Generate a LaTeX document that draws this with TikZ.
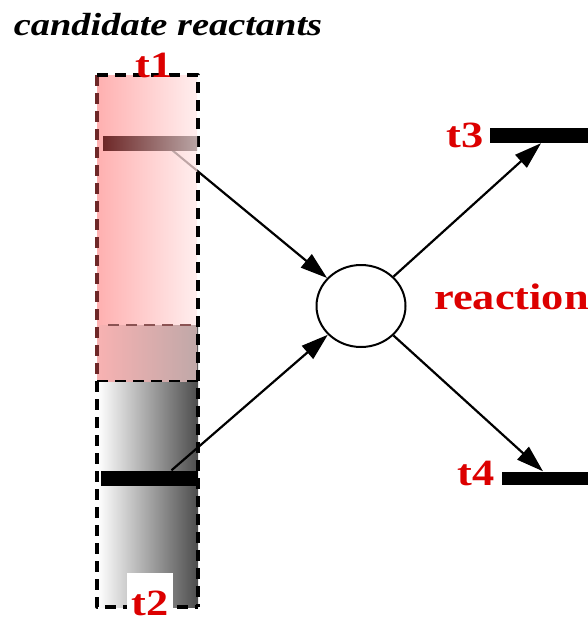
\documentclass[tikz,border=0pt]{standalone}
\usepackage{fontspec}
\setmainfont{Liberation Serif}
\usepackage{graphicx}
\usepackage{tikz}
\usetikzlibrary{arrows.meta,shapes.geometric}
\definecolor{labred}{RGB}{220,0,0}
\definecolor{rosel}{RGB}{255,176,176}
\definecolor{roser}{RGB}{255,238,238}
\definecolor{mixl}{RGB}{248,178,178}
\definecolor{mixr}{RGB}{192,168,168}
\definecolor{barl}{RGB}{110,40,40}
\definecolor{barr}{RGB}{185,165,165}
\definecolor{faint}{RGB}{190,165,165}
\tikzset{lab/.style={text=labred,font=\fontsize{37}{40}\selectfont\bfseries,inner sep=0pt},
  tbar/.style={fill=black,inner sep=0pt,minimum height=14pt},
  dashbox/.style={line width=3.2pt,dash pattern=on 11pt off 7pt},
  arc/.style={->,line width=2.2pt}}

\begin{document}
\begin{tikzpicture}[x=1pt,y=-1pt,>={Triangle[length=27pt,width=17pt]},line join=round]
\useasboundingbox (0,0) rectangle (587,621);
% --- left column: t2 region below, t1 region laid over it
\fill[left color=white,right color=black!70] (98,325) rectangle (198,607);
\draw[dashbox] (97,381) -- (97,607) -- (198,607);
\node[ellipse,draw,line width=2pt,minimum width=89pt,minimum height=82pt,inner sep=0pt] (p) at (361,306) {};
\coordinate (t1s) at (172,150);
\draw[arc] (t1s) -- (p);
\fill[left color=rosel,right color=roser] (97,75) rectangle (197,325);
\fill[left color=mixl,right color=mixr] (97,325) rectangle (197,381);
\begin{scope}
\clip (97,75) rectangle (197,381);
\draw[line width=2pt,faint] (t1s) -- (p);
\end{scope}
\draw[dashbox,barl] (97,75) -- (97,381);
\draw[dashbox,line width=2.5pt,barl!80] (108,325) -- (197,325);
\draw[dashbox] (97,75) -- (198,75) -- (198,607);
\draw[dashbox,line width=2pt] (97,381) -- (198,381);
\node[inner sep=0pt,minimum width=94pt,minimum height=14pt,left color=barl,right color=barr] (t1b) at (150,143) {};
\node[tbar,minimum width=97pt,minimum height=15pt] (t2b) at (149.5,478) {};
% --- right side: place and output transitions
\node[tbar,minimum width=102pt,minimum height=15pt] (t3b) at (541,135.5) {};
\node[tbar,minimum width=90pt,minimum height=13pt] (t4b) at (547,478) {};
\draw[arc] ([xshift=22pt]t2b.north) -- (p);
\draw[arc] (p) -- (t3b.south);
\draw[arc] (p) -- ([xshift=-4pt]t4b.north);
% --- labels
\node[anchor=base,font=\fontsize{32}{34}\selectfont\bfseries\itshape] (title) at (168,35) {\scalebox{1.2}[1]{candidate reactants}};
\node[lab,anchor=base] (t1) at (154,77) {\scalebox{1.2}[1]{t1}};
\node[lab,anchor=base east] (t3) at (484,147) {\scalebox{1.2}[1]{t3}};
\node[lab,anchor=base east] (t4) at (495,485) {\scalebox{1.2}[1]{t4}};
\node[lab,anchor=base west] (reac) at (434,309) {\scalebox{1.2}[1]{reaction}};
\node[lab,anchor=base,fill=white,minimum width=46pt,text height=42pt,text depth=6pt] (t2) at (150,615) {\scalebox{1.2}[1]{t2}};
\end{tikzpicture}
\end{document}
